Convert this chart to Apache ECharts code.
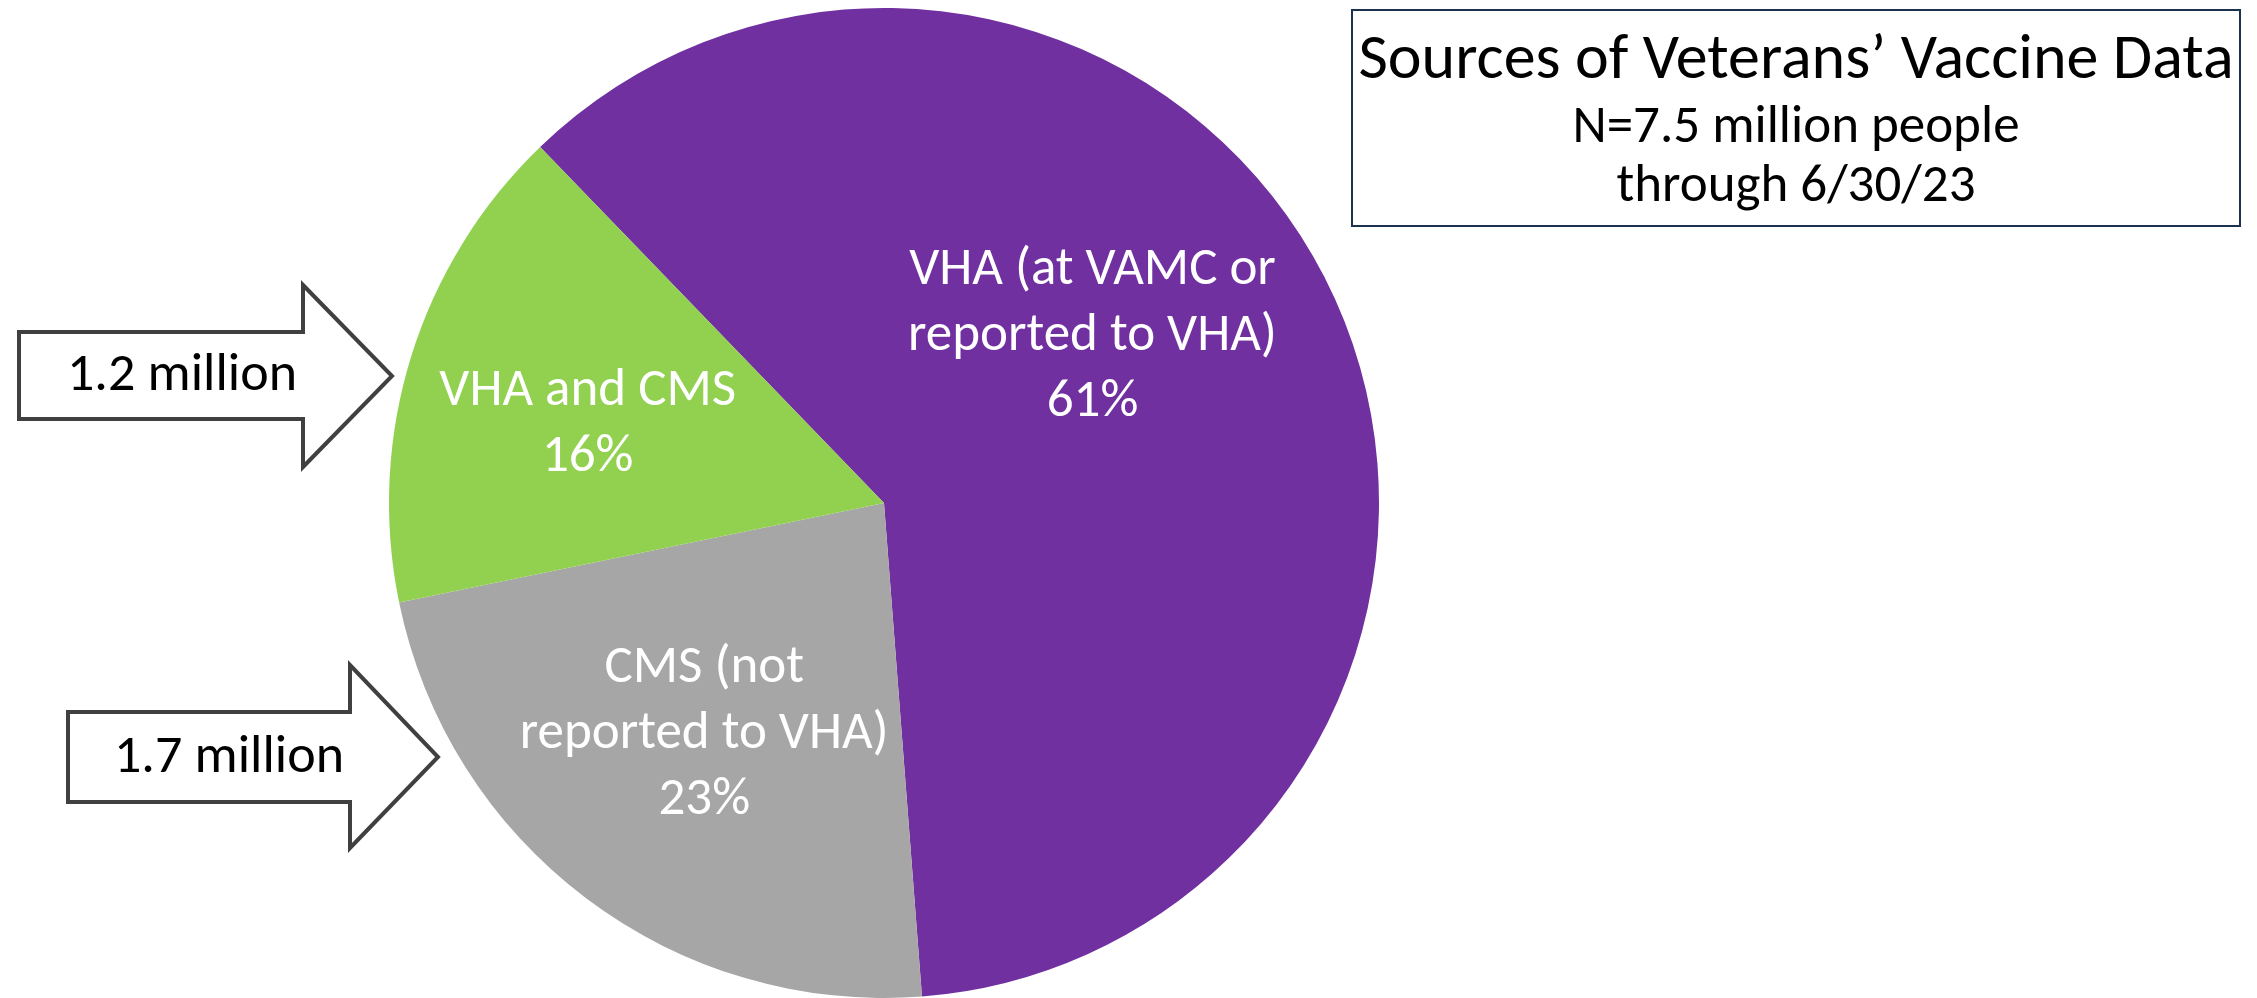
<!DOCTYPE html>
<html>
<head>
<meta charset="utf-8">
<title>Sources of Veterans' Vaccine Data</title>
<script src="https://cdn.jsdelivr.net/npm/echarts@6/dist/echarts.min.js"></script>
<style>
  html, body { margin: 0; padding: 0; background: #fff; }
  #chart { width: 2257px; height: 998px; }
</style>
</head>
<body>
<div id="chart"></div>
<script type="text/javascript">
    // data
    var sourceNames = ['VHA (at VAMC or\nreported to VHA)', 'CMS (not\nreported to VHA)', 'VHA and CMS'];
    var sharePct = [61, 23, 16];
    var arrowLabels = ['1.2 million', '1.7 million'];
    var titleLines = ['Sources of Veterans\u2019 Vaccine Data', 'N=7.5 million people', 'through 6/30/23'];

    var sliceColors = ['#7030A0', '#A6A6A6', '#92D050'];
    // nudge each label to where the reference puts it
    var labelShift = [[-20, -64], [-29, 32], [-57, -4]];
    var FONT = 'Carlito, Lato, sans-serif';

    var myChart = echarts.init(document.getElementById('chart'));

    function arrow(x0, y0, y1, xb, yt, yb, xt, ty) {
        return [[x0, y0], [xb, y0], [xb, yt], [xt, ty], [xb, yb], [xb, y1], [x0, y1]];
    }

    var option = {
        backgroundColor: '#fff',
        animation: false,
        series: [{
            type: 'pie',
            center: [884, 503],
            radius: 495,
            startAngle: 134,
            clockwise: true,
            silent: true,
            label: {
                show: true,
                position: 'inside',
                formatter: '{b}\n{c}%',
                color: '#fff',
                fontFamily: FONT,
                fontSize: 53,
                lineHeight: 66,
                align: 'center'
            },
            labelLine: {show: false},
            labelLayout: function (p) {
                var s = labelShift[p.dataIndex];
                return {dx: s[0], dy: s[1]};
            },
            itemStyle: {borderWidth: 0},
            data: sourceNames.map(function (n, i) {
                return {name: n, value: sharePct[i], itemStyle: {color: sliceColors[i]}};
            })
        }],
        graphic: [
            {
                type: 'polygon',
                shape: {points: arrow(19, 332, 419, 303, 285, 467, 392, 376)},
                style: {fill: '#fff', stroke: '#404040', lineWidth: 4}
            },
            {
                type: 'text', x: 182, y: 376,
                style: {text: arrowLabels[0], font: '54px ' + FONT, fill: '#000', textAlign: 'center', textVerticalAlign: 'middle'}
            },
            {
                type: 'polygon',
                shape: {points: arrow(68, 712, 802, 350, 665, 848, 438, 757)},
                style: {fill: '#fff', stroke: '#404040', lineWidth: 4}
            },
            {
                type: 'text', x: 229, y: 758,
                style: {text: arrowLabels[1], font: '54px ' + FONT, fill: '#000', textAlign: 'center', textVerticalAlign: 'middle'}
            },
            {
                type: 'rect',
                shape: {x: 1352, y: 10, width: 888, height: 216},
                style: {fill: '#fff', stroke: '#1b3350', lineWidth: 2}
            },
            {
                type: 'text', x: 1796, y: 62,
                style: {text: titleLines[0], font: '64px ' + FONT, fill: '#000', textAlign: 'center', textVerticalAlign: 'middle'}
            },
            {
                type: 'text', x: 1796, y: 129,
                style: {text: titleLines[1], font: '53px ' + FONT, fill: '#000', textAlign: 'center', textVerticalAlign: 'middle'}
            },
            {
                type: 'text', x: 1796, y: 188,
                style: {text: titleLines[2], font: '53px ' + FONT, fill: '#000', textAlign: 'center', textVerticalAlign: 'middle'}
            }
        ]
    };
    myChart.setOption(option, true);
</script>
</body>
</html>
